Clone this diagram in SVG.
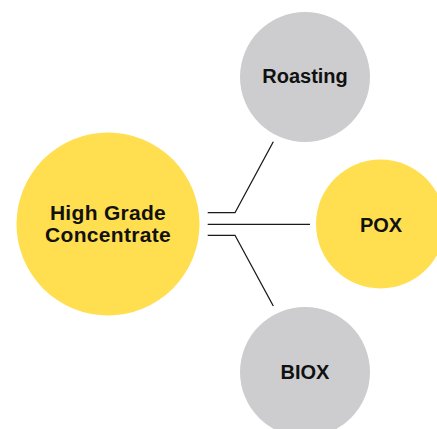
<svg xmlns="http://www.w3.org/2000/svg" width="437" height="429" viewBox="0 0 437 429">
<style>
.y{fill:#FFDF4F}
.g{fill:#CDCDCF}
.t{font-family:"Liberation Sans",Arial,sans-serif;font-weight:bold;font-size:20px;fill:#111;text-anchor:middle}
.big{font-size:21px;letter-spacing:0.3px}
.c{fill:none;stroke:#1a1a1a;stroke-width:1.3}
</style>
<rect width="437" height="429" fill="#fff"/>
<g id="connectors">
<polyline class="c" points="207.7,212.7 235,212.7 273.3,141.7"/>
<line class="c" x1="207.7" y1="224.3" x2="310" y2="224.3"/>
<polyline class="c" points="207.7,235.3 235,235.3 273.3,306"/>
</g>
<g id="high-grade">
<circle class="y" cx="108" cy="224" r="91.5"/>
<text class="t big" x="108" y="220">High Grade</text>
<text class="t big" x="108" y="241.7">Concentrate</text>
</g>
<g id="roasting">
<circle class="g" cx="305" cy="77" r="65"/>
<text class="t" x="305" y="83.3">Roasting</text>
</g>
<g id="pox">
<circle class="y" cx="380.5" cy="224" r="64.5"/>
<text class="t" x="381" y="231.7">POX</text>
</g>
<g id="biox">
<circle class="g" cx="305" cy="372" r="65"/>
<text class="t" x="305" y="379.3">BIOX</text>
</g>
</svg>
